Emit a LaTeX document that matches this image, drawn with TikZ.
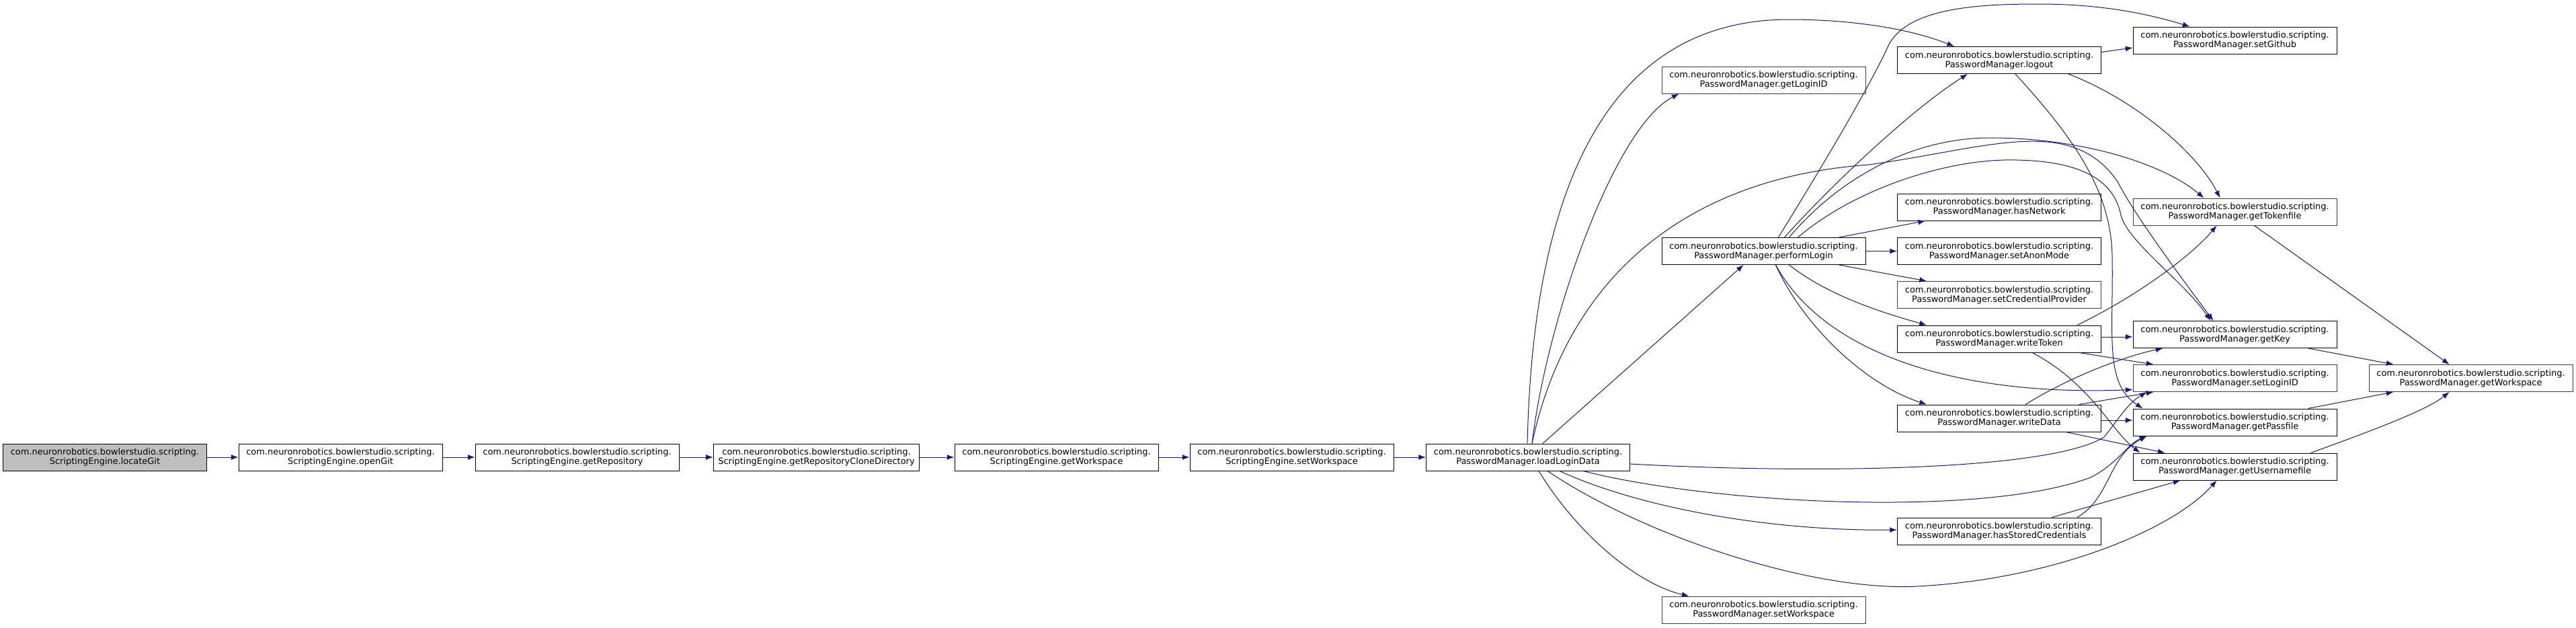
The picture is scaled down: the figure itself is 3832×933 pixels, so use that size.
\documentclass[tikz,border=0pt]{standalone}
\usepackage{fontspec}
\setmainfont{DejaVu Sans}
\usetikzlibrary{positioning,arrows.meta,calc}
\definecolor{edgeblue}{HTML}{191970}
\definecolor{leafgray}{HTML}{404040}

\begin{document}
\begin{tikzpicture}[x=0.75pt, y=-0.75pt,
  fn/.style={draw=black, line width=0.75pt, fill=white, minimum width=227.25pt,
    minimum height=30pt, inner xsep=5.25pt, inner ysep=0pt, align=center,
    font=\fontsize{9.7}{10.5}\selectfont},
  call/.style={draw=edgeblue, line width=0.75pt, -{Latex[length=8pt,width=6pt]}}]
  \useasboundingbox (0,0) rectangle (3832,933);
  % ScriptingEngine chain
  \node[fn, fill=gray!50] (lg) at (156,680) {com.neuronrobotics.bowlerstudio.scripting.\\ScriptingEngine.locateGit};
  \foreach \n/\x/\t in {og/506.5/openGit, gr/858.5/getRepository,
      grcd/1214.5/getRepositoryCloneDirectory, sgw/1571.5/getWorkspace, ssw/1921.5/setWorkspace}
    \node[fn] (\n) at (\x,680) {com.neuronrobotics.bowlerstudio.scripting.\\ScriptingEngine.\t};
  % PasswordManager
  \foreach \n/\bc/\x/\y/\t in {lld/black/2273/680/loadLoginData,
      gli/leafgray/2623.5/119/getLoginID, pl/black/2623.5/373.5/performLogin,
      psw/leafgray/2623.5/907/setWorkspace,
      lo/black/2974/89.5/logout, hn/black/2974/308/hasNetwork,
      sam/black/2974/373.5/setAnonMode, scp/leafgray/2974/438.5/setCredentialProvider,
      wt/black/2974/504/writeToken, wd/black/2974/622/writeData,
      hsc/black/2974/790/hasStoredCredentials,
      sg/black/3324.5/60/setGithub, gtf/leafgray/3324.5/315/getTokenfile,
      gk/black/3324.5/497.5/getKey, sli/leafgray/3324.5/562.5/setLoginID,
      gpf/black/3324.5/628/getPassfile, guf/black/3324.5/694/getUsernamefile,
      pgw/leafgray/3675.5/562.5/getWorkspace}
    \node[fn, draw=\bc] (\n) at (\x,\y) {com.neuronrobotics.bowlerstudio.scripting.\\PasswordManager.\t};

  % straight calls
  \foreach \a/\b in {lg/og, og/gr, gr/grcd, grcd/sgw, sgw/ssw, ssw/lld, pl/sam}
    \draw[call] (\a) -- (\b);

  % loadLoginData
  \draw[call] ($(lld.north)+(22,0)$) -- ($(pl.south)+(-30,0)$);
  \draw[call] ($(lld.north)+(6,0)$) .. controls (2300,480) and (2400,190) .. ($(gli.south)+(-126,0)$);
  \draw[call] ($(lld.north)+(-1,0)$) .. controls (2280,300) and (2380,30) .. (2660,29)
    .. controls (2780,29) and (2860,50) .. ($(lo.north)+(-67,0)$);
  \draw[call] ($(lld.north)+(6,0)$) .. controls (2330,420) and (2500,265) .. (2780,245)
    .. controls (2960,220) and (3080,170) .. (3150,270)
    .. controls (3175,320) and (3250,420) .. ($(gk.north)+(-32,0)$);
  \draw[call] ($(lld.east)+(0,10)$) .. controls (2700,705) and (3050,700) .. (3130,650)
    .. controls (3150,625) and (3165,600) .. ($(sli.south)+(-131,0)$);
  \draw[call] ($(lld.south)+(82,0)$) .. controls (2550,750) and (2950,770) .. (3110,710)
    .. controls (3150,690) and (3165,660) .. ($(gpf.south)+(-131,0)$);
  \draw[call] ($(lld.south)+(47,0)$) .. controls (2450,760) and (2650,790) .. ($(hsc.west)+(0,-2)$);
  \draw[call] ($(lld.south)+(29,0)$) .. controls (2450,800) and (2700,880) .. (2852,872)
    .. controls (3050,862) and (3230,790) .. ($(guf.south)+(-27,0)$);
  \draw[call] ($(lld.south)+(16,0)$) .. controls (2350,800) and (2440,870) .. ($(psw.north)+(-111,0)$);

  % performLogin
  \draw[call] ($(pl.north)+(22,0)$) .. controls (2740,200) and (2790,110) .. (2810,66)
    .. controls (2840,10) and (2950,6) .. (3033,6)
    .. controls (3130,6) and (3200,22) .. ($(sg.north)+(-67,0)$);
  \draw[call] ($(pl.north)+(31,0)$) .. controls (2720,280) and (2840,165) .. ($(lo.south)+(-47,0)$);
  \draw[call] ($(pl.north)+(38,0)$) .. controls (2740,260) and (2850,205) .. (2960,205)
    .. controls (3100,205) and (3220,245) .. ($(gtf.north)+(-46,0)$);
  \draw[call] ($(pl.north)+(51,0)$) .. controls (2760,280) and (2900,235) .. (3000,238)
    .. controls (3100,240) and (3145,270) .. (3155,320)
    .. controls (3165,360) and (3250,420) .. ($(gk.north)+(-36,0)$);
  \draw[call] ($(pl.north)+(112,0)$) -- ($(hn.south)+(-110,0)$);
  \draw[call] ($(pl.south)+(112,0)$) -- ($(scp.north)+(-108,0)$);
  \draw[call] ($(pl.south)+(38,0)$) .. controls (2720,440) and (2800,465) .. ($(wt.north)+(-108,0)$);
  \draw[call] ($(pl.south)+(18,0)$) .. controls (2680,480) and (2770,570) .. ($(wd.north)+(-108,0)$);
  \draw[call] ($(pl.south)+(18,0)$) .. controls (2710,520) and (2900,590) .. ($(sli.west)+(0,17)$);

  % logout
  \draw[call] ($(lo.east)+(0,-12)$) -- ($(sg.west)+(0,11)$);
  \draw[call] ($(lo.south)+(103,0)$) .. controls (3180,150) and (3270,230) .. ($(gtf.north)+(-22,0)$);
  \draw[call] ($(lo.south)+(24,0)$) .. controls (3080,200) and (3140,280) .. (3142,380)
    .. controls (3144,500) and (3130,570) .. ($(gpf.north)+(-137,0)$);

  % writeToken, writeData, hasStoredCredentials
  \draw[call] ($(wt.east)+(0,-3)$) -- ($(gk.west)+(0,3.5)$);
  \draw[call] ($(wt.north)+(116,0)$) .. controls (3180,440) and (3260,380) .. ($(gtf.south)+(-27,0)$);
  \draw[call] ($(wt.south)+(119,0)$) -- ($(sli.north)+(-121,0)$);
  \draw[call] ($(wt.south)+(49,0)$) .. controls (3110,570) and (3140,640) .. ($(guf.north)+(-141,0)$);
  \draw[call] ($(wd.north)+(39,0)$) .. controls (3080,560) and (3160,530) .. ($(gk.south)+(-107,0)$);
  \draw[call] ($(wd.north)+(119,0)$) -- ($(sli.south)+(-121,0)$);
  \draw[call] ($(wd.east)+(0,3)$) -- ($(gpf.west)+(0,-3)$);
  \draw[call] ($(wd.south)+(99,0)$) -- ($(guf.north)+(-104,0)$);
  \draw[call] ($(hsc.north)+(116,0)$) .. controls (3140,740) and (3135,680) .. ($(gpf.south)+(-131,0)$);
  \draw[call] ($(hsc.north)+(78,0)$) -- ($(guf.south)+(-81,0)$);

  % getWorkspace
  \draw[call] ($(gk.south)+(109,0)$) -- ($(pgw.north)+(-115,0)$);
  \draw[call] ($(gtf.south)+(29,0)$) -- ($(pgw.north)+(-32,0)$);
  \draw[call] ($(gpf.north)+(109,0)$) -- ($(pgw.south)+(-115,0)$);
  \draw[call] ($(guf.north)+(113,0)$) .. controls (3530,640) and (3610,610) .. ($(pgw.south)+(-32,0)$);
\end{tikzpicture}
\end{document}
